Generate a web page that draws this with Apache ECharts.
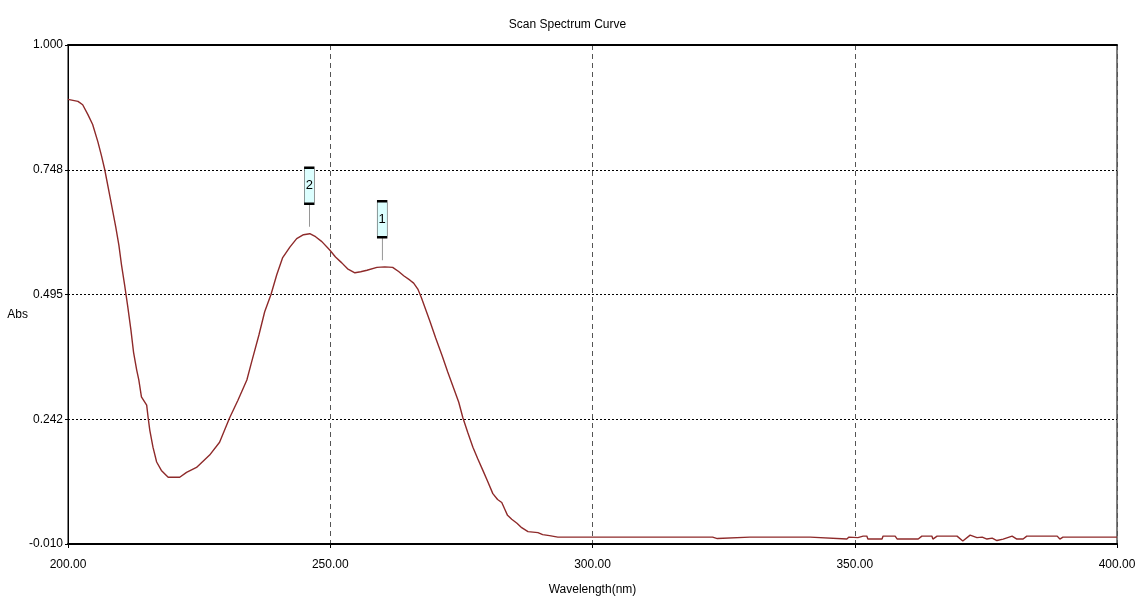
<!DOCTYPE html>
<html>
<head>
<meta charset="utf-8">
<script src="https://cdn.jsdelivr.net/npm/echarts@6/dist/echarts.min.js"></script>
<style>
html,body{margin:0;padding:0;background:#fff;}
#chart{width:1135px;height:602px;}
</style>
</head>
<body>
<div id="chart"></div>
<script>
// Wavelength (nm)
const wavelength = [
  200.0, 201.9, 202.8, 203.8, 204.7, 205.7, 206.4, 207.0, 208.0, 209.1,
  209.7, 210.2, 210.8, 211.4, 212.0, 212.5, 213.1, 213.5, 214.0, 215.0,
  215.3, 215.6, 216.2, 216.9, 217.8, 219.1, 221.3, 222.6, 224.5, 227.0,
  228.9, 230.8, 232.4, 234.1, 235.0, 236.4, 237.5, 238.7, 239.8, 240.9,
  242.3, 243.6, 244.9, 246.1, 247.2, 248.4, 249.9, 251.0, 252.2, 253.3,
  254.7, 255.8, 257.0, 258.9, 260.4, 261.9, 263.1, 264.0, 265.2, 265.9,
  266.7, 267.4, 269.0, 270.1, 271.3, 272.4, 273.6, 274.5, 275.3, 276.2,
  277.2, 278.1, 279.1, 280.0, 281.0, 281.9, 282.7, 283.3, 283.8, 284.6,
  285.6, 286.5, 287.7, 289.6, 290.5, 291.8, 293.4, 297.0, 300.0, 305.0,
  310.0, 315.0, 320.0, 322.9, 323.2, 323.8, 324.1, 330.0, 335.0, 339.6,
  341.5, 341.8, 348.5, 348.9, 350.6, 351.6, 352.3, 352.5, 355.2, 355.4,
  357.7, 358.1, 362.1, 362.8, 364.7, 364.9, 365.7, 369.5, 370.6, 372.0,
  373.3, 374.3, 375.2, 376.2, 377.1, 378.3, 380.0, 380.9, 382.1, 382.8,
  388.6, 389.1, 389.7, 395.0, 400.0
];
// Absorbance (Abs)
const absorbance = [
  0.890, 0.886, 0.879, 0.859, 0.839, 0.804, 0.775, 0.748, 0.693, 0.632,
  0.595, 0.555, 0.514, 0.470, 0.423, 0.378, 0.342, 0.322, 0.288, 0.271,
  0.244, 0.220, 0.186, 0.156, 0.139, 0.125, 0.125, 0.135, 0.145, 0.170,
  0.196, 0.245, 0.281, 0.322, 0.358, 0.413, 0.460, 0.495, 0.535, 0.569,
  0.591, 0.608, 0.616, 0.618, 0.612, 0.602, 0.585, 0.571, 0.559, 0.547,
  0.539, 0.541, 0.544, 0.550, 0.551, 0.550, 0.541, 0.533, 0.524, 0.518,
  0.506, 0.488, 0.441, 0.407, 0.372, 0.338, 0.303, 0.277, 0.245, 0.216,
  0.186, 0.163, 0.139, 0.117, 0.092, 0.080, 0.074, 0.060, 0.048, 0.040,
  0.032, 0.023, 0.015, 0.013, 0.009, 0.007, 0.004, 0.004, 0.004, 0.004,
  0.004, 0.004, 0.004, 0.004, 0.001, 0.001, 0.004, 0.004, 0.004, 0.004,
  0.004, 0.000, 0.000, 0.004, 0.003, 0.006, 0.006, 0.000, 0.000, 0.006,
  0.006, 0.000, 0.000, 0.006, 0.006, 0.000, 0.006, 0.006, -0.004, 0.008,
  0.003, 0.004, 0.000, 0.002, -0.003, 0.000, 0.006, 0.000, 0.000, 0.006,
  0.006, 0.000, 0.004, 0.004, 0.004
];
// Peak markers
const peakLabels = ['2', '1'];
const peakWavelengths = [246.0, 259.9];
const peakValues = [0.618, 0.550];
// Axis ticks
const yTickValues = [-0.010, 0.2425, 0.495, 0.7475, 1.000];
const yTickLabels = ['-0.010', '0.242', '0.495', '0.748', '1.000'];
const xMin = 200, xMax = 400, xInterval = 50;

const FONT = "'Liberation Sans', Arial, sans-serif";

const seriesData = wavelength.map((w, i) => [w, absorbance[i]]);
const markData = peakLabels.map((lab, i) => ({
  name: lab,
  coord: [peakWavelengths[i], peakValues[i]],
  value: lab
}));

const chart = echarts.init(document.getElementById('chart'), null, {renderer: 'canvas'});
chart.setOption({
  animation: false,
  backgroundColor: '#ffffff',
  title: {
    text: 'Scan Spectrum Curve',
    left: 'center',
    top: 14,
    textStyle: {fontFamily: FONT, fontSize: 12, fontWeight: 'normal', color: '#000'}
  },
  grid: {
    left: 68, right: 18, top: 45, bottom: 58,
    containLabel: false,
    outerBoundsMode: 'none',
    show: true, borderColor: '#000', borderWidth: 1, backgroundColor: 'transparent'
  },
  xAxis: [{
    type: 'value',
    min: xMin, max: xMax, interval: xInterval,
    name: 'Wavelength(nm)',
    nameLocation: 'middle',
    nameGap: 40,
    nameTextStyle: {fontFamily: FONT, fontSize: 12, color: '#000'},
    axisLine: {show: true, onZero: false, lineStyle: {color: '#000', width: 2}},
    axisTick: {show: true, length: 4, inside: false, lineStyle: {color: '#000'}},
    axisLabel: {
      show: true, margin: 15, color: '#000', fontFamily: FONT, fontSize: 12,
      formatter: v => v.toFixed(2), showMinLabel: true, showMaxLabel: true
    },
    splitLine: {show: true, lineStyle: {color: '#555', type: [5, 4], width: 1}}
  }, {
    type: 'value',
    position: 'top',
    min: xMin, max: xMax, interval: xInterval,
    axisLine: {show: true, onZero: false, lineStyle: {color: '#000', width: 2}},
    axisTick: {show: false},
    axisLabel: {show: false},
    splitLine: {show: false}
  }],
  yAxis: {
    type: 'value',
    min: -0.010, max: 1.000,
    name: 'Abs',
    nameLocation: 'middle',
    nameRotate: 0,
    nameGap: 40,
    nameMoveOverlap: false,
    nameTextStyle: {fontFamily: FONT, fontSize: 12, color: '#000', verticalAlign: 'top', lineHeight: 40},
    axisLine: {show: true, onZero: false, lineStyle: {color: '#000', width: 1}},
    axisTick: {show: true, length: 3, customValues: yTickValues, lineStyle: {color: '#000'}},
    axisLabel: {
      show: true, margin: 5, color: '#000', fontFamily: FONT, fontSize: 12,
      customValues: yTickValues,
      formatter: function (v) {
        let best = 0;
        for (let i = 1; i < yTickValues.length; i++) {
          if (Math.abs(yTickValues[i] - v) < Math.abs(yTickValues[best] - v)) best = i;
        }
        return yTickLabels[best];
      }
    },
    splitLine: {show: true, lineStyle: {color: '#000', type: [2, 2], width: 1}}
  },
  series: [{
    type: 'line',
    xAxisIndex: 0,
    data: seriesData,
    showSymbol: false,
    symbol: 'none',
    smooth: false,
    lineStyle: {color: '#8E2A2A', width: 1.4},
    itemStyle: {color: '#8E2A2A'},
    emphasis: {disabled: true},
    markPoint: {
      symbol: 'path://M0,0H10V36H0Z M5,36V59',
      symbolSize: [10, 59],
      symbolKeepAspect: false,
      symbolOffset: [0, -36.5],
      itemStyle: {color: '#dcffff', borderColor: '#000', borderWidth: 1},
      label: {
        show: true, position: 'inside', offset: [0, -11.5],
        color: '#000', fontFamily: FONT, fontSize: 13,
        formatter: p => p.name
      },
      emphasis: {disabled: true},
      data: markData
    }
  }]
});
</script>
</body>
</html>
